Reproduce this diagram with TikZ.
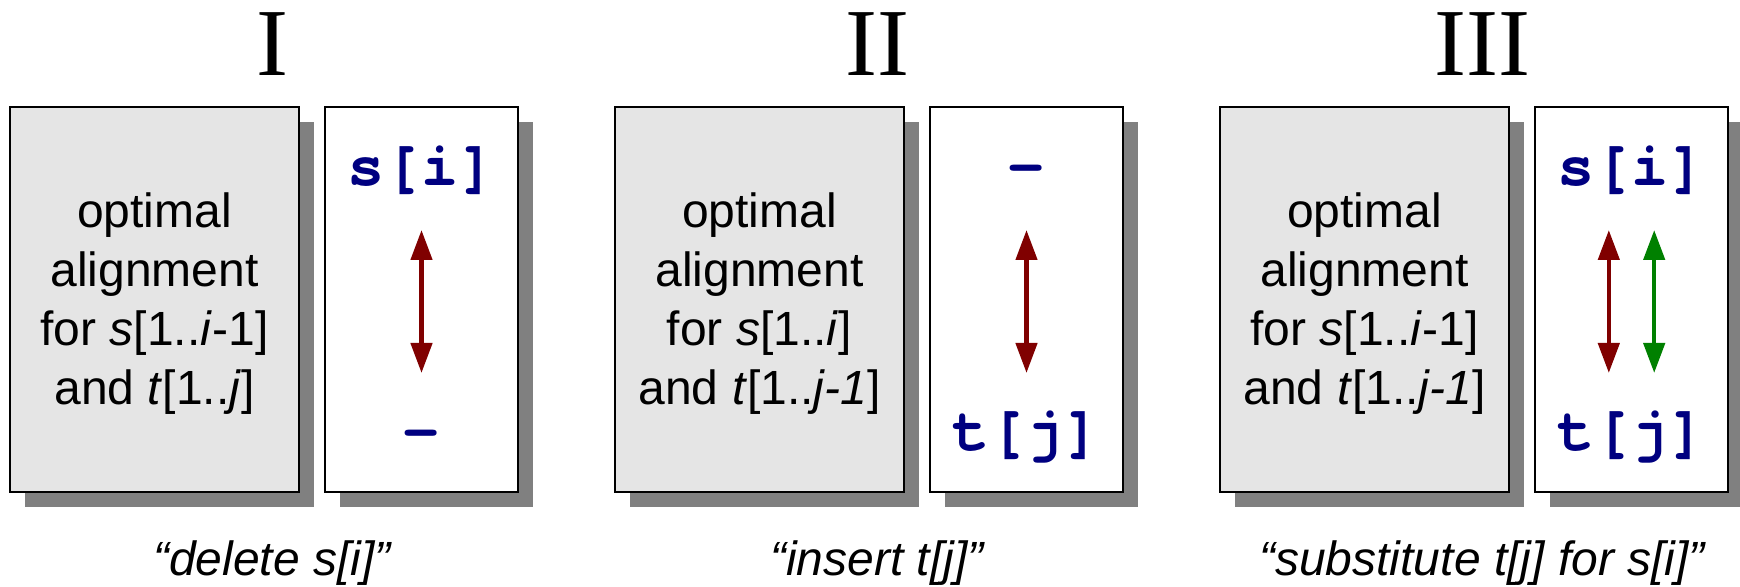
\documentclass[tikz,border=0pt]{standalone}
\usepackage{fontspec}
\setmainfont{Liberation Sans}
\newfontfamily\romanfont{Liberation Serif}
\newfontfamily\codefont{TeX Gyre Cursor}
\usetikzlibrary{positioning,arrows.meta,shadows}
\definecolor{boxgray}{RGB}{229,229,229}
\definecolor{shadowgray}{RGB}{128,128,128}
\definecolor{codeblue}{RGB}{0,0,128}
\definecolor{delred}{RGB}{128,0,0}
\definecolor{subgreen}{RGB}{0,128,0}

\tikzset{
  optbox/.style={draw=black, line width=0.75pt, fill=boxgray,
    minimum width=144.5pt, minimum height=192.5pt, inner sep=0pt, outer sep=0pt,
    drop shadow={shadow xshift=7.5pt, shadow yshift=-7.5pt, fill=shadowgray, draw=none, opacity=1}},
  charbox/.style={optbox, fill=white, minimum width=96.5pt},
  opttext/.style={align=center, font=\fontsize{24}{29.5}\selectfont},
  chartext/.style={text=codeblue, anchor=base, inner sep=0pt,
    font=\codefont\bfseries\fontsize{31}{31}\selectfont},
  romanlabel/.style={anchor=base, inner sep=0pt, font=\romanfont\fontsize{48}{48}\selectfont},
  caption/.style={anchor=base, inner sep=0pt, font=\itshape\fontsize{24}{29}\selectfont},
  swaparrow/.style={{Triangle[length=15pt,width=10.5pt]}-{Triangle[length=15pt,width=10.5pt]},
    line width=2.25pt, shorten <=22pt, shorten >=39pt}
}

\begin{document}
\begin{tikzpicture}[x=0.5pt, y=-0.5pt]
    \useasboundingbox (0,0) rectangle (1740,587);

    % I: delete
    \node[romanlabel] (t1) at (272,76) {I};
    \node[optbox] (g1) at (154.5,299.5) {};
    \node[charbox, right=13pt of g1] (w1) {};
    \node[opttext] (o1) at (154.5,304) {optimal\\alignment\\for \textit{s}[1..\textit{i}-1]\\and \textit{t}[1..\textit{j}]};
    \node[chartext] (a1) at (421.5,186) {s[i]};
    \node[chartext] (b1) at (421.5,451) {-};
    \draw[swaparrow, delred] (a1.base) -- (b1.base);
    \node[caption] (c1) at (272,575) {“delete s[i]”};

    % II: insert
    \node[romanlabel] (t2) at (877,76) {II};
    \node[optbox] (g2) at (759.5,299.5) {};
    \node[charbox, right=13pt of g2] (w2) {};
    \node[opttext] (o2) at (759.5,304) {optimal\\alignment\\for \textit{s}[1..\textit{i}]\\and \textit{t}[1..\textit{j-1}]};
    \node[chartext] (a2) at (1026.5,186) {-};
    \node[chartext] (b2) at (1026.5,451) {t[j]};
    \draw[swaparrow, delred] (a2.base) -- (b2.base);
    \node[caption] (c2) at (877,575) {“insert t[j]”};

    % III: substitute
    \node[romanlabel] (t3) at (1482,76) {III};
    \node[optbox] (g3) at (1364.5,299.5) {};
    \node[charbox, right=13pt of g3] (w3) {};
    \node[opttext] (o3) at (1364.5,304) {optimal\\alignment\\for \textit{s}[1..\textit{i}-1]\\and \textit{t}[1..\textit{j-1}]};
    \node[chartext] (a3) at (1631.5,186) {s[i]};
    \node[chartext] (b3) at (1631.5,451) {t[j]};
    \draw[swaparrow, delred] ([xshift=-11.35pt]a3.base) -- ([xshift=-11.35pt]b3.base);
    \draw[swaparrow, subgreen] ([xshift=11.35pt]a3.base) -- ([xshift=11.35pt]b3.base);
    \node[caption] (c3) at (1482,575) {“substitute t[j] for s[i]”};
\end{tikzpicture}
\end{document}
